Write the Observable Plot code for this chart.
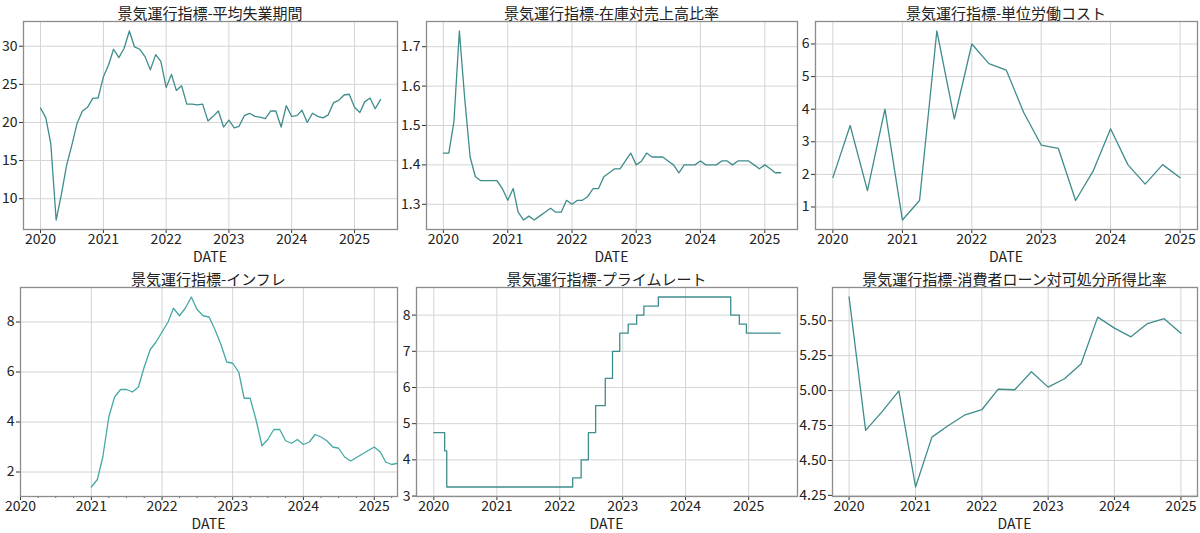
<!DOCTYPE html>
<html><head><meta charset="utf-8">
<script src="https://cdn.jsdelivr.net/npm/d3@7"></script>
<script src="https://cdn.jsdelivr.net/npm/@observablehq/plot@0.6"></script>
<style>
body{margin:0;background:#fff;width:1200px;height:533px;overflow:hidden;position:relative;font-family:"Noto Sans CJK JP",sans-serif;color:#222}
.title{position:absolute;text-align:center;font-size:15px;white-space:nowrap;line-height:1}
.xlab{position:absolute;text-align:center;font-size:14px;line-height:1}
svg{position:absolute}
</style></head><body>
<script>
// ---- data ----
const titles = [
  "景気運行指標-平均失業期間",
  "景気運行指標-在庫対売上高比率",
  "景気運行指標-単位労働コスト",
  "景気運行指標-インフレ",
  "景気運行指標-プライムレート",
  "景気運行指標-消費者ローン対可処分所得比率"
];
const xLabel = "DATE";
const yearTicks = ["2020","2021","2022","2023","2024","2025"];

// 平均失業期間 monthly from 2020-01
const unempStart = "2020-01-01";
const unempValues = [21.9,20.6,17.2,7.2,10.5,14.4,17.0,19.9,21.5,22.0,23.2,23.2,
  26.0,27.6,29.6,28.5,29.7,32.0,29.9,29.6,28.6,26.9,28.9,28.0,
  24.6,26.3,24.2,24.8,22.4,22.4,22.3,22.4,20.2,20.8,21.5,19.4,
  20.3,19.3,19.5,20.9,21.2,20.8,20.7,20.5,21.5,21.5,19.4,22.2,
  20.8,20.9,21.6,20.0,21.2,20.8,20.6,21.0,22.6,22.9,23.6,23.7,
  22.0,21.3,22.7,23.2,21.8,23.0];
const unempTicks = [10,15,20,25,30];

// 在庫対売上高比率 monthly from 2020-01
const invStart = "2020-01-01";
const invValues = [1.43,1.43,1.51,1.74,1.57,1.42,1.37,1.36,1.36,1.36,1.36,1.34,
  1.31,1.34,1.28,1.26,1.27,1.26,1.27,1.28,1.29,1.28,1.28,1.31,
  1.30,1.31,1.31,1.32,1.34,1.34,1.37,1.38,1.39,1.39,1.41,1.43,
  1.40,1.41,1.43,1.42,1.42,1.42,1.41,1.40,1.38,1.40,1.40,1.40,
  1.41,1.40,1.40,1.40,1.41,1.41,1.40,1.41,1.41,1.41,1.40,1.39,
  1.40,1.39,1.38,1.38];
const invTicks = [1.3,1.4,1.5,1.6,1.7];

// 単位労働コスト quarterly from 2020Q1
const ulcStart = "2020-01-01";
const ulcValues = [1.9,3.5,1.5,4.0,0.6,1.2,6.4,3.7,6.0,5.4,5.2,3.9,2.9,2.8,1.2,2.1,3.4,2.3,1.7,2.3,1.9];
const ulcTicks = [1,2,3,4,5,6];

// インフレ monthly from 2021-01 (axis starts 2020-01)
const inflStart = "2021-01-01";
const inflValues = [1.4,1.7,2.6,4.2,5.0,5.3,5.3,5.2,5.4,6.2,6.9,7.2,
  7.6,8.0,8.55,8.25,8.55,9.0,8.5,8.25,8.2,7.7,7.1,6.4,
  6.35,6.0,4.95,4.95,4.1,3.05,3.3,3.7,3.7,3.25,3.15,3.3,
  3.1,3.2,3.5,3.4,3.25,3.0,2.95,2.6,2.44,2.58,2.72,2.86,
  3.0,2.8,2.4,2.3,2.35];
const inflDomain = ["2020-01-01","2025-05-01"];
const inflTicks = [2,4,6,8];

// プライムレート change dates
const primeDates = ["2020-01-01","2020-03-04","2020-03-16","2022-03-17","2022-05-05","2022-06-16","2022-07-28",
  "2022-09-22","2022-11-03","2022-12-15","2023-02-02","2023-03-23","2023-05-04","2023-07-27",
  "2024-09-19","2024-11-08","2024-12-19","2025-07-03"];
const primeValues = [4.75,4.25,3.25,3.5,4.0,4.75,5.5,6.25,7.0,7.5,7.75,8.0,8.25,8.5,8.0,7.75,7.5,7.5];
const primeTicks = [3,4,5,6,7,8];

// 消費者ローン対可処分所得比率 quarterly from 2020Q1
const loanStart = "2020-01-01";
const loanValues = [5.67,4.715,4.85,4.998,4.31,4.667,4.75,4.827,4.863,5.01,5.006,5.135,
  5.025,5.085,5.19,5.526,5.447,5.385,5.48,5.515,5.41];
const loanTicks = [4.25,4.5,4.75,5.0,5.25,5.5];

// ---- helpers ----
const monthly = (start, vals, step=1) => vals.map((v,i) => ({date: d3.utcMonth.offset(new Date(start), i*step), value: v}));
const pad = (lo, hi, f=0.05) => { const d = (+hi - +lo) * f; return [lo instanceof Date ? new Date(+lo - d) : lo - d, lo instanceof Date ? new Date(+hi + d) : hi + d]; };
const years = yearTicks.map(y => new Date(y + "-01-01"));

const frames = [
  {x0:23, x1:397, y0:21, y1:229},
  {x0:426, x1:797, y0:21, y1:229},
  {x0:815, x1:1197, y0:21, y1:229},
  {x0:20, x1:397, y0:287, y1:496},
  {x0:416, x1:797, y0:287, y1:496},
  {x0:832, x1:1197, y0:287, y1:496}
];

function panel(i, data, opts) {
  const f = frames[i];
  const ml = 48, mr = 3, mt = 5, mb = 40;
  const xDom = opts.xDomain || pad(d3.min(data, d => d.date), d3.max(data, d => d.date));
  const yDom = pad(d3.min(data, d => d.value), d3.max(data, d => d.value));
  const xt = years.filter(d => d >= xDom[0] && d <= xDom[1]);
  const marks = [
    Plot.gridX(xt, {stroke:"#d4d4d4", strokeOpacity:1, strokeWidth:1}),
    Plot.gridY(opts.yTicks, {stroke:"#d4d4d4", strokeOpacity:1, strokeWidth:1}),
    Plot.axisX(xt, {tickFormat: d3.utcFormat("%Y"), tickSize:4, tickPadding:1, fontSize:14, label:null, stroke:"#333"}),
    Plot.axisY(opts.yTicks, {tickFormat: opts.yFormat, tickSize:4, tickPadding:2, fontSize:14, label:null, stroke:"#333"})
  ];
  if (opts.minor) marks.push(Plot.axisX(opts.minor, {tickFormat: () => "", tickSize:2, label:null, stroke:"#555"}));
  marks.push(Plot.line(data, {x:"date", y:"value", stroke: opts.color || "#3f8c8c", strokeWidth:1.3, curve: opts.curve || "linear"}));
  marks.push(Plot.frame({stroke:"#8c8c8c", strokeWidth:1.3}));
  const svg = Plot.plot({
    width: f.x1 - f.x0 + ml + mr,
    height: f.y1 - f.y0 + mt + mb,
    marginLeft: ml, marginRight: mr, marginTop: mt, marginBottom: mb,
    x: {type:"utc", domain: xDom},
    y: {domain: yDom},
    style: {fontFamily:"'Noto Sans CJK JP', sans-serif", color:"#222", background:"transparent", overflow:"visible"},
    marks
  });
  svg.style.position = "absolute";
  svg.style.left = (f.x0 - ml) + "px";
  svg.style.top = (f.y0 - mt) + "px";
  document.body.appendChild(svg);
  const t = document.createElement("div");
  t.className = "title"; t.textContent = titles[i];
  t.style.left = f.x0 + "px"; t.style.width = (f.x1 - f.x0) + "px";
  t.style.top = (f.y0 - 16) + "px";
  document.body.appendChild(t);
  const l = document.createElement("div");
  l.className = "xlab"; l.textContent = xLabel;
  l.style.left = f.x0 + "px"; l.style.width = (f.x1 - f.x0) + "px";
  l.style.top = (f.y1 + 20) + "px";
  document.body.appendChild(l);
}

panel(0, monthly(unempStart, unempValues), {yTicks: unempTicks, yFormat: d3.format("d")});
panel(1, monthly(invStart, invValues), {yTicks: invTicks, yFormat: d3.format(".1f")});
panel(2, monthly(ulcStart, ulcValues, 3), {yTicks: ulcTicks, yFormat: d3.format("d")});
const inflMinor = d3.utcMonth.every(3).range(new Date(inflDomain[0]), new Date(inflDomain[1])).filter(d => d.getUTCMonth() !== 0);
panel(3, monthly(inflStart, inflValues), {yTicks: inflTicks, yFormat: d3.format("d"), color:"#45a9a6",
  xDomain: inflDomain.map(d => new Date(d)), minor: inflMinor});
panel(4, primeDates.map((d,i) => ({date: new Date(d), value: primeValues[i]})), {yTicks: primeTicks, yFormat: d3.format("d"), curve:"step-after"});
panel(5, monthly(loanStart, loanValues, 3), {yTicks: loanTicks, yFormat: d3.format(".2f")});
</script>
</body></html>
